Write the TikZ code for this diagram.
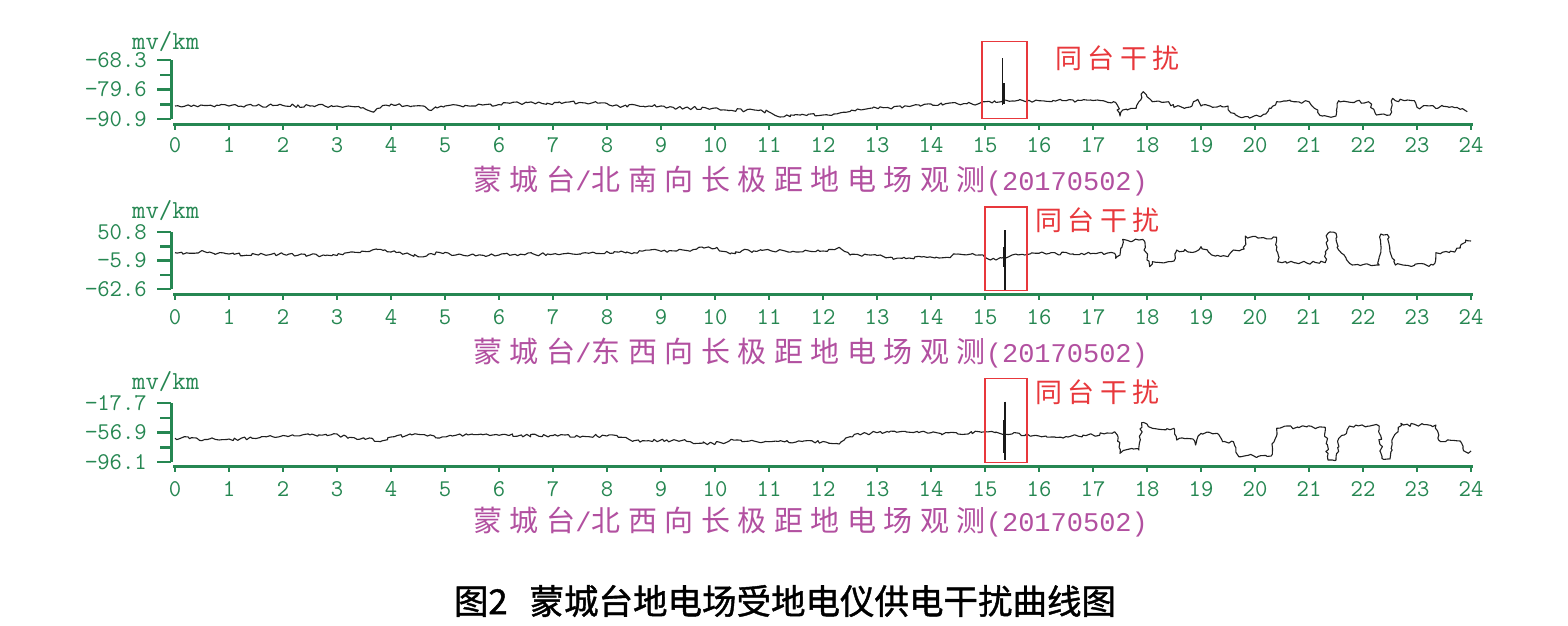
\documentclass[tikz,border=0pt]{standalone}
\usepackage{fontspec}
\usetikzlibrary{decorations.pathmorphing}
\newfontfamily\monof{Liberation Mono}
\newfontfamily\cjkf[FakeBold=1.2]{Noto Sans CJK SC}
\newfontfamily\cjkt[LetterSpace=26]{Noto Sans CJK SC}
\newfontfamily\cjkr[LetterSpace=20]{Noto Sans CJK SC}
\definecolor{axgreen}{RGB}{38,135,82}
\definecolor{ttlpurple}{RGB}{178,80,160}
\definecolor{boxred}{RGB}{232,56,60}
\tikzset{
  axisline/.style={draw=axgreen, line width=3pt},
  tickline/.style={draw=axgreen, line width=2.5pt},
  xlab/.style={text=axgreen, font=\fontsize{24}{24}\ttfamily, inner sep=0pt},
  ylab/.style={text=axgreen, font=\fontsize{24}{24}\ttfamily, inner sep=0pt, anchor=east},
  unitlab/.style={text=axgreen, font=\fontsize{26}{26}\ttfamily, inner sep=0pt, anchor=west},
  ttl/.style={text=ttlpurple, inner sep=0pt, anchor=west},
  redlab/.style={text=boxred, font=\fontsize{27}{27}\cjkr, inner sep=0pt, anchor=west},
  redbox/.style={draw=boxred, line width=1.4pt},
  trace/.style={draw=black!88, line width=1.1pt, line join=round, decorate,
    decoration={random steps, segment length=3pt, amplitude=1.6pt}},
  spk/.style={draw=black!90, line width=1.2pt},
  spkthick/.style={draw=black!90, line width=3pt}
}
\newcommand\chartaxes[8]{%
  \draw[axisline] (171,#2) -- (171,#3);
  \foreach \i in {0,2,4} \draw[tickline] (157,{#2+(#3-#2)*\i/4}) -- (171,{#2+(#3-#2)*\i/4});
  \foreach \i in {1,3} \draw[tickline] (160,{#2+(#3-#2)*\i/4}) -- (171,{#2+(#3-#2)*\i/4});
  \draw[axisline] (173,#1) -- (1473,#1);
  \foreach \k in {0,...,24} {%
    \draw[tickline] ({175+54*\k},#1) -- ({175+54*\k},{#1+6});
    \node[xlab] (x#8\k) at ({175+54*\k},#4) {\k};}
  \node[ylab] (ya#8) at (147,#2) {#5};
  \node[ylab] (yb#8) at (147,{(#2+#3)/2}) {#6};
  \node[ylab] (yc#8) at (147,#3) {#7};
}
\newcommand\charttitle[3]{%
  \node[ttl] (t#3) at (473,#1) {\fontsize{29}{29}\cjkt 蒙城台\fontsize{27}{27}\monof /\fontsize{29}{29}\cjkt #2\fontsize{27}{27}\monof (20170502)};}
\begin{document}
\begin{tikzpicture}[x=1pt,y=-1pt]
\useasboundingbox (0,0) rectangle (1568,625);
\fill[white] (0,0) rectangle (1568,625);

% ---------- chart 1
\chartaxes{124}{60}{119}{145}{−68.3}{−79.6}{−90.9}{a}
\node[unitlab] (ua) at (132,42) {mv/km};
\charttitle{181}{北南向长极距地电场观测}{a}
% ---------- chart 2
\chartaxes{294}{232}{289}{317}{50.8}{−5.9}{−62.6}{b}
\node[unitlab] (ub) at (132,211) {mv/km};
\charttitle{353}{东西向长极距地电场观测}{b}
% ---------- chart 3
\chartaxes{466}{403}{462}{489}{−17.7}{−56.9}{−96.1}{c}
\node[unitlab] (uc) at (132,382) {mv/km};
\charttitle{522}{北西向长极距地电场观测}{c}

% ---------- traces
\begin{scope}[shift={(175pt,0pt)}, x=54pt, y=-1pt]
\pgfmathsetseed{7}
\draw[trace] plot coordinates {(0,106) (0.3,106.5) (0.6,105.5) (1.0,106) (1.5,105.8) (2.0,105.5) (2.5,106) (3.0,106) (3.4,106.5) (3.7,111) (3.8,108) (4.0,104) (4.3,105.5) (4.6,106) (4.7,110) (4.85,108) (5.0,106) (5.5,106) (5.7,105) (6.0,104.5) (6.2,103.3) (6.8,103.5) (7.3,102) (7.6,103) (8.0,103.5) (8.1,106) (9.0,106) (9.1,108) (10.0,108) (10.1,110) (10.8,110.5) (11.0,112) (11.2,117) (11.4,115) (11.7,115.5) (12.0,115) (12.2,114) (12.5,111.5) (12.8,109) (13.2,107.5) (13.6,106.5) (14.0,104) (14.5,104) (14.9,103.3) (15.0,101.7) (15.3,101.7) (15.5,101) (16.0,100.7) (16.5,100.7) (17.0,100.5) (17.38,101.7) (17.45,105) (17.5,116) (17.55,110) (17.8,108) (17.85,101.7) (17.93,91.7) (18.0,96.7) (18.1,101.7) (18.4,101.7) (18.5,107.3) (18.8,107) (18.94,99.3) (19.0,106) (19.5,106) (19.55,112.7) (19.7,116.7) (20.1,116.7) (20.2,114) (20.3,108.3) (20.4,101.7) (21.0,101.7) (21.1,108.3) (21.25,116) (21.5,116) (21.55,100.7) (21.7,101.7) (22.1,101.7) (22.2,109.3) (22.25,115) (22.5,115) (22.55,98.3) (22.6,100.7) (22.95,100.7) (23.0,107.3) (23.65,106.7) (23.8,109.3) (23.93,111.7)};
\draw[spk] (15.33,105) -- (15.33,58.3);
\draw[spkthick] (15.34,83) -- (15.34,104);

\draw[trace] plot coordinates {(0,252.7) (0.4,253) (0.5,250.5) (0.6,252.7) (1.0,254) (1.5,254.5) (2.0,254) (2.5,255) (3.0,255.5) (3.3,252) (3.6,251.5) (3.8,249.3) (4.0,252) (4.3,253) (4.5,256.7) (4.7,254) (4.9,252.5) (5.2,255) (6.0,255) (6.3,254.3) (7.5,254.3) (7.6,252.7) (8.5,252.7) (8.6,250.7) (9.5,250.7) (9.7,247.3) (10.0,248.5) (10.3,253) (10.5,250.7) (11.3,251) (11.5,252) (12.0,251) (12.3,247.3) (12.5,255) (13.0,255.5) (13.3,259.3) (13.5,257.3) (14.3,257.3) (14.5,254) (14.9,255) (15.0,257.3) (15.1,260) (15.3,258) (15.5,255) (16.0,253.3) (17.0,253.3) (17.4,253.3) (17.42,258.3) (17.5,255) (17.55,239.3) (17.7,241.7) (17.85,240) (17.95,241) (18.0,260) (18.05,266.7) (18.1,261.7) (18.5,261) (18.55,250) (18.9,251.7) (19.0,246.7) (19.2,255) (19.5,256.7) (19.6,250) (19.8,249) (19.82,236) (19.9,237.3) (20.4,237.3) (20.42,261.7) (20.5,262.7) (21.3,262.7) (21.35,233.3) (21.5,233.3) (21.55,250) (21.65,255) (21.75,263.3) (21.8,265) (22.3,265) (22.33,234) (22.45,234.5) (22.5,251.7) (22.6,265) (23.3,265) (23.35,252.7) (23.7,252) (23.8,246.7) (23.9,240) (24.0,241)};
\draw[spk] (15.37,230) -- (15.37,290);
\draw[spkthick] (15.37,246.7) -- (15.37,266.7);

\draw[trace] plot coordinates {(0,438.3) (0.4,438) (0.5,440.7) (0.6,439.5) (1.0,439) (1.5,438.5) (1.6,436.7) (2.0,435.5) (2.5,435) (3.0,434) (3.2,438.3) (3.6,438) (3.8,441.7) (4.0,437) (4.5,434.3) (4.8,436) (4.9,438) (5.1,435.3) (6.0,435.3) (7.0,435.5) (8.0,436) (8.3,437.3) (8.5,440.7) (9.3,440.7) (9.5,441.5) (9.7,443.3) (10.2,442.7) (10.3,439.3) (10.5,441.7) (11.0,441.7) (11.5,442) (12.0,441.5) (12.3,444) (12.5,436.7) (12.8,433.3) (13.0,432.7) (14.0,432.7) (14.5,434) (15.0,431.7) (15.2,432) (15.5,434) (16.0,436) (16.5,436.5) (17.0,435) (17.4,431.7) (17.45,435) (17.5,453.3) (17.6,450) (17.75,449) (17.85,450) (17.9,422.7) (18.0,424) (18.1,428.3) (18.5,428.3) (18.55,440) (18.6,438.3) (18.85,439) (18.9,445) (19.0,433.3) (19.3,433.3) (19.4,441.7) (19.6,441.7) (19.7,456.7) (19.8,456) (20.3,456) (20.4,428.3) (20.5,427.3) (21.3,427.3) (21.35,460) (21.5,460) (21.55,438.3) (21.65,435) (21.75,426) (22.3,426) (22.35,458.3) (22.5,459) (22.55,438.3) (22.65,431.7) (22.7,423.3) (22.75,425) (23.35,425) (23.4,440) (23.8,441) (23.85,448.3) (23.95,453.3) (24.0,451)};
\draw[spk] (15.37,401.7) -- (15.37,460);
\draw[spkthick] (15.37,420) -- (15.37,453.3);
\end{scope}

% ---------- interference boxes and labels
\draw[redbox] (982,41.7) rectangle (1027,118.3);
\node[redlab] (ra) at (1055,58) {同台干扰};
\draw[redbox] (985,207) rectangle (1027,290.7);
\node[redlab] (rb) at (1035,220) {同台干扰};
\draw[redbox] (985,378.3) rectangle (1027,462.3);
\node[redlab] (rc) at (1035,392) {同台干扰};

% ---------- caption
\node[inner sep=0pt] (cap) at (785,601) {\fontsize{34.5}{34.5}\cjkf 图2\hspace{22pt}蒙城台地电场受地电仪供电干扰曲线图};
\end{tikzpicture}
\end{document}
